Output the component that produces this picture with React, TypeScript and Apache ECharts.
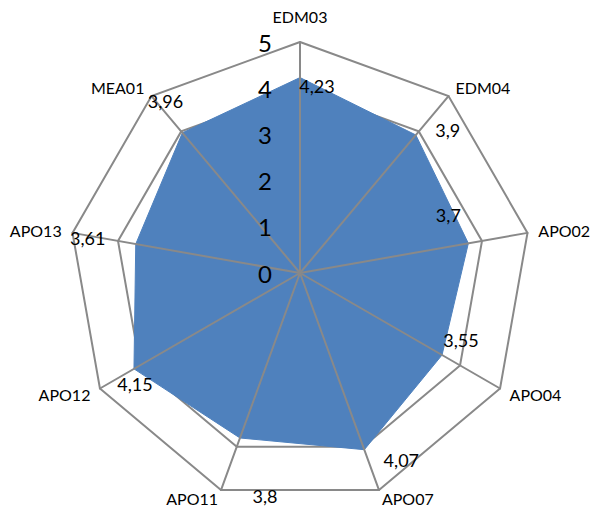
import React, { useEffect, useRef } from "react";
import * as echarts from "echarts";

// Clockwise order starting at the top
const categories = ["EDM03", "EDM04", "APO02", "APO04", "APO07", "APO11", "APO12", "APO13", "MEA01"];
const values = [4.23, 3.9, 3.7, 3.55, 4.07, 3.8, 4.15, 3.61, 3.96];
const axisMax = 5;
const tickLabels = ["0", "1", "2", "3", "4", "5"];

// label offsets (px) relative to each vertex, clockwise order
const labelOffsets: [number, number][] = [
  [17, 8], [32, -5], [-20, -28], [19, -15], [37, 10], [25, 58], [1, 15], [-48, -6], [-17, -32],
];
// distance of each axis name from the outer ring, clockwise order
const nameGaps = [18, 11, 11, 11, 8.5, 8.5, 11, 11, 11];

const FONT = "Lato, 'Open Sans', sans-serif";
const FILL = "#4F81BD";
const GRID = "#898989";

export default function App() {
  const ref = useRef<HTMLDivElement>(null);
  useEffect(() => {
    if (!ref.current) return;
    const chart = echarts.init(ref.current, null, { renderer: "svg" });
    // ECharts lays indicators counter-clockwise; reverse (keeping first on top) for clockwise order
    const order = [0, ...categories.slice(1).map((_, i) => categories.length - 1 - i)];
    const indicators = order.map((k) => ({
      name: categories[k],
      min: 0,
      max: axisMax,
      nameGap: nameGaps[k],
    }));
    const indicatorsTop = order.map((k, j) => ({
      name: categories[k],
      min: 0,
      max: axisMax,
      axisLabel: { show: j === 0 },
    }));
    const ordered = order.map((k) => values[k]);
    const fmt = (v: number) => String(v).replace(".", ",");

    const labelItems = order.map((k, j) => {
      const arr: (number | string)[] = order.map(() => "-");
      arr[j] = values[k];
      return {
        name: fmt(values[k]),
        value: arr,
        symbol: "circle",
        symbolSize: 1,
        itemStyle: { color: "rgba(0,0,0,0)" },
        lineStyle: { opacity: 0, width: 0 },
        areaStyle: { opacity: 0 },
        label: {
          show: true,
          position: "inside",
          offset: labelOffsets[k],
          formatter: (p: any) =>
            typeof p.value === "number" && !isNaN(p.value) ? p.name : "",
          color: "#000",
          fontSize: 18,
          fontFamily: FONT,
          opacity: 1,
        },
      };
    });

    const center = [300, 273];
    const radius = 231;
    chart.setOption({
      animation: false,
      backgroundColor: "#fff",
      radar: [
        {
          center,
          radius,
          startAngle: 90,
          splitNumber: 5,
          shape: "polygon",
          indicator: indicators,
          axisName: { color: "#000", fontSize: 16, fontFamily: FONT },
          splitLine: { lineStyle: { color: GRID, width: 2 } },
          splitArea: { show: false },
          axisLine: { show: false },
          axisTick: { show: false },
          axisLabel: { show: false },
          z: 0,
        },
        {
          center,
          radius,
          startAngle: 90,
          splitNumber: 5,
          shape: "polygon",
          indicator: indicatorsTop,
          axisName: { show: false },
          splitLine: { show: false },
          splitArea: { show: false },
          axisLine: { show: true, lineStyle: { color: GRID, width: 2 } },
          axisTick: { show: false },
          axisLabel: {
            show: false,
            color: "#000",
            fontSize: 24,
            fontFamily: FONT,
            margin: 28,
            formatter: (v: number) => tickLabels[Math.round(v)] ?? String(v),
          },
          z: 5,
        },
      ],
      series: [
        {
          type: "radar",
          radarIndex: 0,
          z: 2,
          symbol: "none",
          data: [
            {
              value: ordered,
              name: "Score",
              lineStyle: { color: FILL, width: 1 },
              areaStyle: { color: FILL, opacity: 1 },
            },
          ],
        },
        {
          type: "radar",
          radarIndex: 0,
          z: 10,
          data: labelItems,
        },
      ],
    });
    return () => chart.dispose();
  }, []);
  return (
    <div
      ref={ref}
      style={{ position: "absolute", left: 0, top: 0, width: 590, height: 508 }}
    />
  );
}
